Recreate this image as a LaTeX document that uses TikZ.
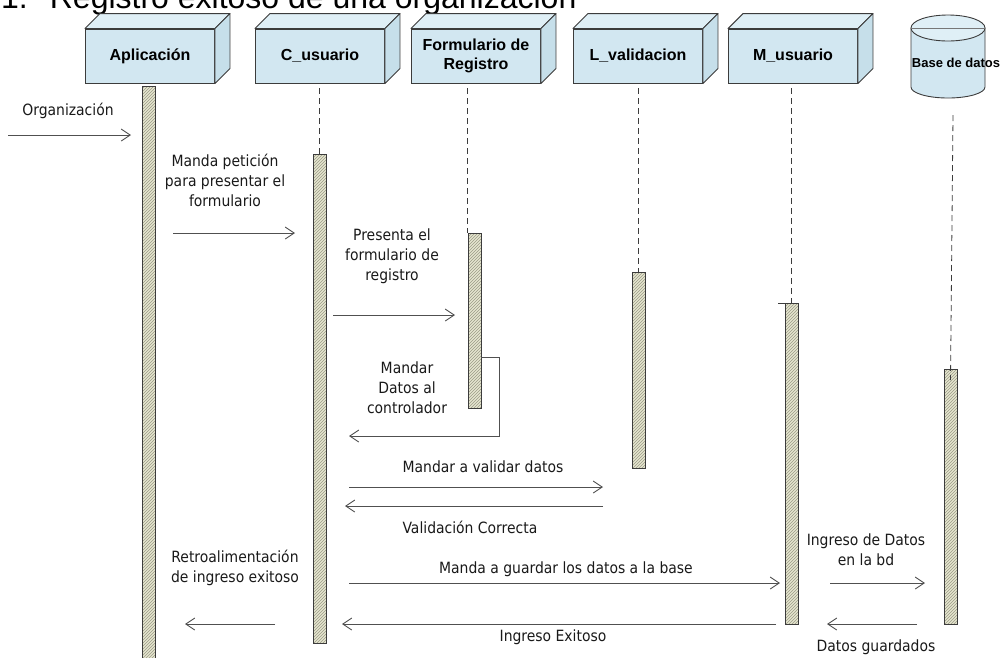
\documentclass[tikz,border=0pt]{standalone}
\usepackage{fontspec}
\setmainfont{Liberation Sans}
\newfontfamily\msgfont{DejaVu Sans Condensed}
\usetikzlibrary{arrows.meta,patterns}

\definecolor{boxblue}{HTML}{D2E7F1}
\definecolor{boxtop}{HTML}{DFEFF6}
\definecolor{boxside}{HTML}{C6DFEA}
\definecolor{barfill}{HTML}{E6E6D0}
\definecolor{hatch}{HTML}{9A9A86}
\definecolor{edge}{HTML}{3C3C3C}
\definecolor{line}{HTML}{505050}

\begin{document}
\begin{tikzpicture}[x=1pt, y=-1pt,
	obj/.style = {draw=edge, fill=boxblue, line width=0.9pt, minimum width=129, minimum height=54,
		align=center, font=\fontsize{16}{19}\selectfont\bfseries},
	face/.style = {draw=edge, line width=0.9pt, line join=round},
	actbar/.style = {draw=edge, line width=0.9pt, anchor=north, minimum width=13, inner sep=0pt,
		preaction={fill=barfill}, pattern=north east lines, pattern color=hatch},
	life/.style = {draw=edge, line width=0.8pt, dash pattern=on 6pt off 4pt},
	msg/.style = {draw=line, line width=0.9pt, -{Straight Barb[length=9pt, width=12pt]}},
	lbl/.style = {align=center, font=\msgfont\fontsize{15.5}{20}\selectfont, text=black!90}]
	\useasboundingbox (0,0) rectangle (1004,657);

	% title, cut at the top
	\node[anchor=base west, inner sep=0pt, font=\fontsize{32}{34}\selectfont] (tit) at (1,8)
		{1.\hspace{22pt}Registro exitoso de una organización};

	% objects
	\node[obj] (apl) at (150,56) {Aplicación};
	\node[obj] (cus) at (320,56) {C\_usuario};
	\node[obj] (frm) at (476,56) {Formulario de\\Registro};
	\node[obj] (lva) at (638,56) {L\_validacion};
	\node[obj] (mus) at (793,56) {M\_usuario};
	\foreach \n in {apl,cus,frm,lva,mus} {
		\draw[face, fill=boxtop] (\n.north west) -- ++(15,-15) -- ([shift={(15,-15)}]\n.north east) -- (\n.north east) -- cycle;
		\draw[face, fill=boxside] (\n.north east) -- ++(15,-15) -- ([shift={(15,-15)}]\n.south east) -- (\n.south east) -- cycle;
	}

	% data base
	\draw[face, fill=boxblue] (911,28) -- (911,87) arc[start angle=180, end angle=0, x radius=37, y radius=11] -- (985,28) -- cycle;
	\draw[face, fill=boxtop] (948,28) ellipse[x radius=37, y radius=13];
	\draw[edge!70, line width=0.6pt] (911,28) -- (985,28);
	\node[font=\fontsize{13}{15}\selectfont\bfseries, inner sep=0pt] (bd) at (956,63) {Base de datos};

	% activation bars
	\node[actbar, minimum height=580] (b1) at (149,86) {};
	\node[actbar, minimum height=489] (b2) at (319.5,154) {};
	\node[actbar, minimum height=175] (b3) at (474.5,233) {};
	\node[actbar, minimum height=196] (b4) at (638.5,272) {};
	\node[actbar, minimum height=321] (b5) at (791.5,303) {};
	\node[actbar, minimum height=255] (b6) at (950.5,369) {};
	\draw[edge, line width=0.9pt] (b5.north west) -- ++(-7,0);

	% lifelines
	\draw[life] ([yshift=-5]cus.south -| b2) -- (b2.north);
	\draw[life] ([yshift=-5]frm.south -| b3.north west) -- (b3.north west);
	\draw[life] ([yshift=-5]lva.south -| b4) -- (b4.north);
	\draw[life] ([yshift=-5]mus.south -| b5) -- (b5.north);
	\draw[life] (953,115) -- ([yshift=-11]b6.north);

	% message ends
	\coordinate (o1) at (8,135);    \coordinate (o2) at (131,135);
	\coordinate (m1) at (173,233);  \coordinate (m2) at (295,233);
	\coordinate (m3) at (333,315);  \coordinate (m4) at (455,315);
	\coordinate (s1) at (481,357);  \coordinate (s2) at (499,436);  \coordinate (s3) at (349,436);
	\coordinate (v1) at (349,487);  \coordinate (v2) at (603,487);
	\coordinate (v3) at (603,506);  \coordinate (v4) at (345,506);
	\coordinate (g1) at (349,583);  \coordinate (g2) at (780,583);
	\coordinate (d1) at (830,583);  \coordinate (d2) at (925,583);
	\coordinate (e1) at (776,624);  \coordinate (e2) at (342,624);
	\coordinate (k1) at (917,624);  \coordinate (k2) at (827,624);
	\coordinate (r1) at (275,624);  \coordinate (r2) at (185,624);

	% messages
	\draw[msg] (o1) -- (o2);
	\draw[msg] (m1) -- (m2);
	\draw[msg] (m3) -- (m4);
	\draw[msg] (s1) -| (s2) -- (s3);
	\draw[msg] (v1) -- (v2);
	\draw[msg] (v3) -- (v4);
	\draw[msg] (g1) -- (g2);
	\draw[msg] (d1) -- (d2);
	\draw[msg] (e1) -- (e2);
	\draw[msg] (k1) -- (k2);
	\draw[msg] (r1) -- (r2);

	% labels
	\node[lbl] (l1) at (68,111) {Organización};
	\node[lbl] (l2) at (225,180) {Manda petición\\para presentar el\\formulario};
	\node[lbl] (l3) at (392,256) {Presenta el\\formulario de\\registro};
	\node[lbl] (l4) at (407,388) {Mandar\\Datos al\\controlador};
	\node[lbl] (l5) at (483,467) {Mandar a validar datos};
	\node[lbl] (l6) at (470,527) {Validación Correcta};
	\node[lbl] (l7) at (566,569) {Manda a guardar los datos a la base};
	\node[lbl] (l8) at (866,550) {Ingreso de Datos\\en la bd};
	\node[lbl] (l9) at (553,637) {Ingreso Exitoso};
	\node[lbl] (l10) at (876,647) {Datos guardados};
	\node[lbl] (l11) at (235,568) {Retroalimentación\\de ingreso exitoso};
\end{tikzpicture}
\end{document}
